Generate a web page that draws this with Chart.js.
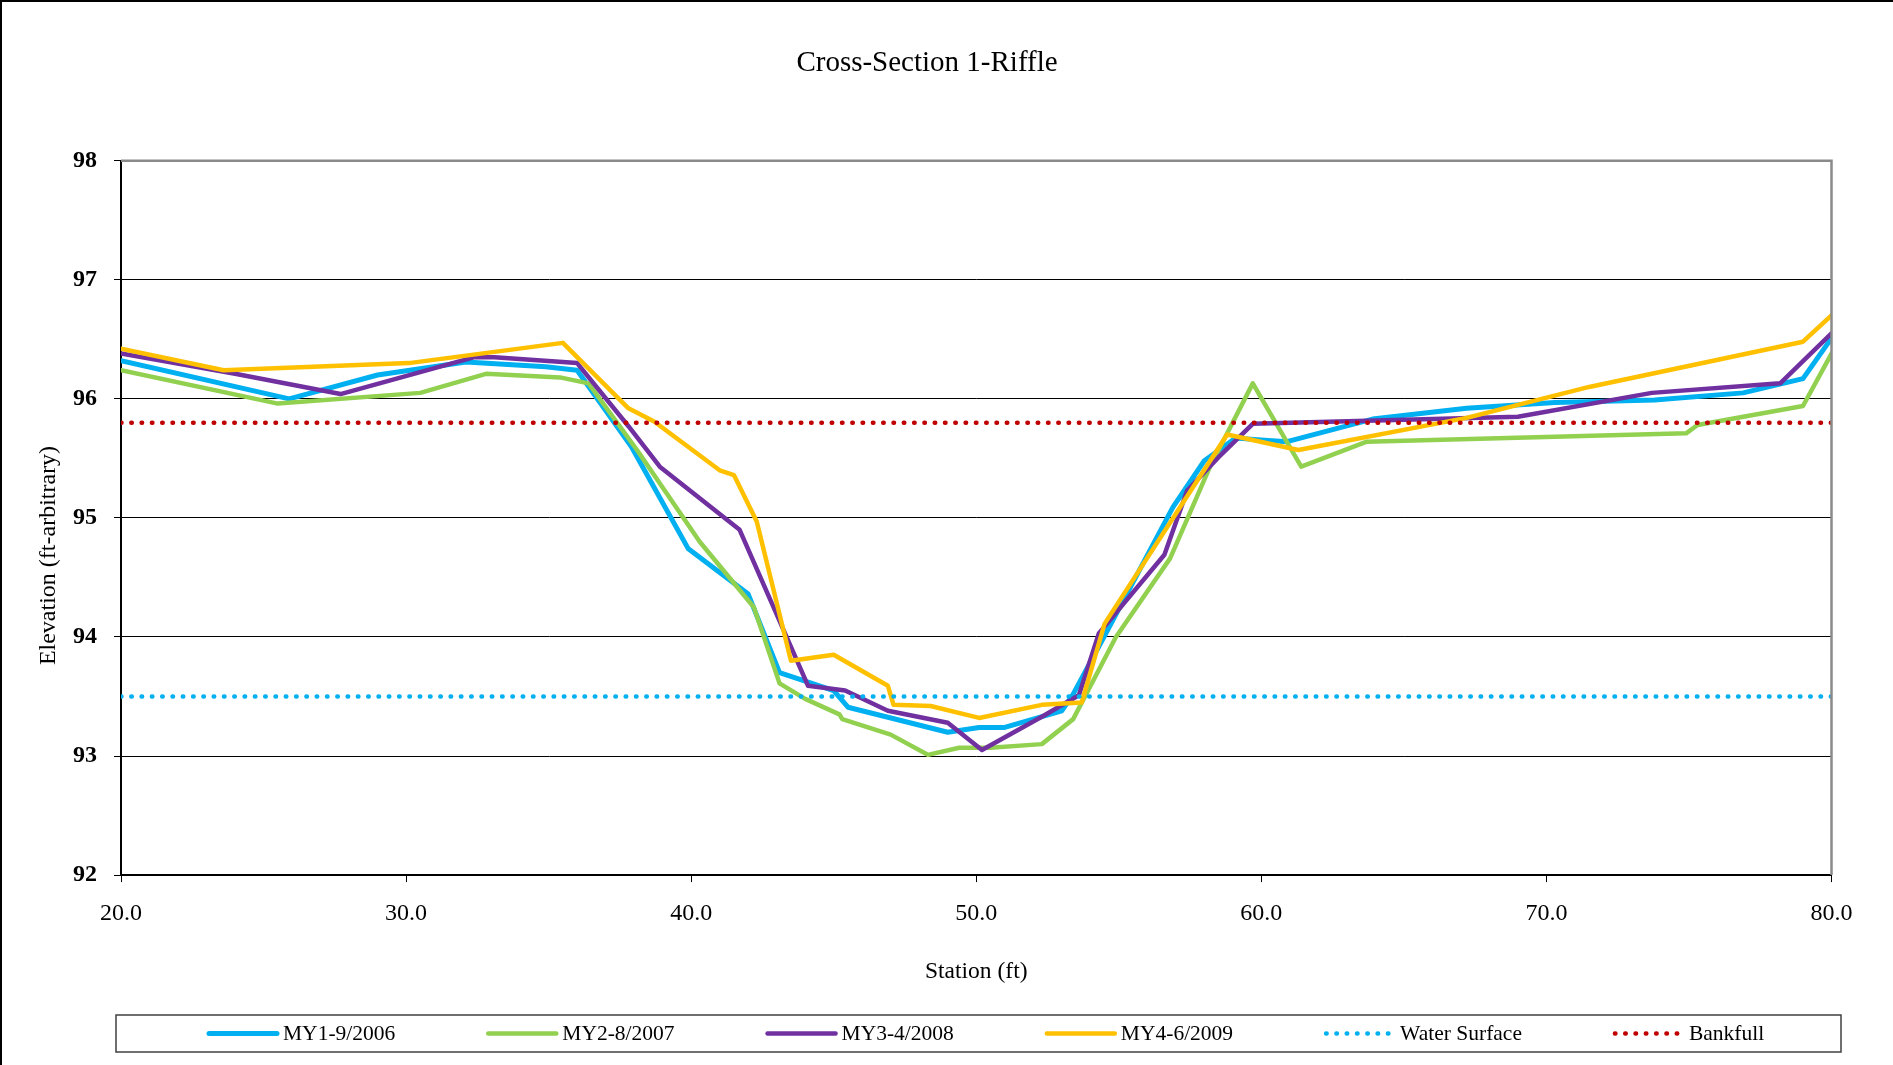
<!DOCTYPE html>
<html>
<head>
<meta charset="utf-8">
<script src="https://cdn.jsdelivr.net/npm/chart.js@4/dist/chart.umd.min.js"></script>
<style>
html,body{margin:0;padding:0;background:#fff;}
#wrap{width:1893px;height:1065px;position:relative;overflow:hidden;}
canvas{display:block;}
</style>
</head>
<body>
<div id="wrap"><canvas id="c" width="1893" height="1065"></canvas></div>
<script>
// ---------- text ----------
const chartTitle = 'Cross-Section 1-Riffle';
const xAxisTitle = 'Station (ft)';
const yAxisTitle = 'Elevation (ft-arbitrary)';
const seriesLabels = ['MY1-9/2006', 'MY2-8/2007', 'MY3-4/2008', 'MY4-6/2009', 'Water Surface', 'Bankfull'];

// ---------- tick values ----------
const xTickValues = [20, 30, 40, 50, 60, 70, 80];
const yTickValues = [92, 93, 94, 95, 96, 97, 98];

// ---------- series (station ft, elevation ft) ----------
const my1Station = [20.0, 25.9, 29.0, 32.1, 34.9, 36.0, 37.9, 39.9, 42.0, 43.1, 45.0, 45.5, 49.0, 50.1, 51.0, 53.0, 53.4, 54.3, 56.9, 58.0, 59.1, 60.9, 63.9, 67.2, 70.3, 73.8, 76.9, 79.0, 80.0];
const my1Elev    = [96.32, 96.00, 96.20, 96.31, 96.27, 96.24, 95.60, 94.74, 94.36, 93.70, 93.55, 93.41, 93.20, 93.24, 93.24, 93.38, 93.52, 93.92, 95.09, 95.48, 95.67, 95.64, 95.83, 95.92, 95.97, 95.99, 96.05, 96.17, 96.51];

const my2Station = [20.0, 25.5, 30.5, 32.8, 35.4, 36.4, 38.1, 40.3, 42.2, 43.1, 44.0, 45.2, 45.3, 47.0, 48.3, 49.4, 50.5, 52.3, 53.4, 54.9, 56.8, 58.2, 59.7, 61.4, 63.7, 74.9, 75.3, 79.0, 80.0];
const my2Elev    = [96.24, 95.96, 96.05, 96.21, 96.18, 96.13, 95.57, 94.80, 94.25, 93.61, 93.48, 93.35, 93.31, 93.18, 93.01, 93.07, 93.07, 93.10, 93.31, 94.00, 94.66, 95.43, 96.13, 95.43, 95.64, 95.71, 95.78, 95.94, 96.38];

const my3Station = [20.0, 24.0, 27.7, 32.4, 33.1, 36.0, 37.8, 38.9, 41.7, 44.1, 45.4, 46.9, 49.0, 50.2, 52.3, 53.6, 54.3, 56.6, 57.4, 58.5, 59.7, 69.0, 73.7, 78.2, 80.0];
const my3Elev    = [96.38, 96.21, 96.04, 96.35, 96.35, 96.30, 95.77, 95.43, 94.90, 93.59, 93.55, 93.38, 93.28, 93.05, 93.33, 93.51, 94.03, 94.69, 95.23, 95.51, 95.79, 95.85, 96.05, 96.13, 96.55];

const my4Station = [20.0, 23.6, 30.1, 35.5, 37.8, 38.7, 41.0, 41.5, 42.3, 43.5, 45.0, 46.9, 47.1, 48.4, 50.1, 52.3, 53.7, 54.5, 58.8, 61.3, 67.2, 71.5, 79.0, 80.0];
const my4Elev    = [96.42, 96.24, 96.30, 96.47, 95.92, 95.81, 95.40, 95.36, 94.97, 93.80, 93.85, 93.59, 93.43, 93.42, 93.32, 93.43, 93.45, 94.11, 95.70, 95.57, 95.84, 96.10, 96.48, 96.70];

const waterStation = [20.0, 80.0];
const waterElev    = [93.5, 93.5];
const bankStation  = [20.0, 80.0];
const bankElev     = [95.8, 95.8];

// ---------- helpers ----------
const zip = (xs, ys) => xs.map((x, i) => ({ x: x, y: ys[i] }));
const SERIF = '"Liberation Serif", "Times New Roman", serif';

const seriesStyle = [
  { color: '#00B0F0', width: 5,   dash: [],         cap: 'round' },
  { color: '#92D050', width: 4.5, dash: [],         cap: 'round' },
  { color: '#7030A0', width: 4.5, dash: [],         cap: 'round' },
  { color: '#FFC000', width: 4.5, dash: [],         cap: 'round' },
  { color: '#00B0F0', width: 4.5, dash: [0.5, 9.8], cap: 'round' },
  { color: '#C00000', width: 4.5, dash: [0.5, 9.8], cap: 'round' }
];
const seriesData = [
  zip(my1Station, my1Elev),
  zip(my2Station, my2Elev),
  zip(my3Station, my3Elev),
  zip(my4Station, my4Elev),
  zip(waterStation, waterElev),
  zip(bankStation, bankElev)
];
const drawOrder = [5, 4, 3, 2, 1, 0]; // higher is drawn first (below)

const datasets = seriesLabels.map((lab, i) => ({
  label: lab,
  data: seriesData[i],
  borderColor: seriesStyle[i].color,
  backgroundColor: seriesStyle[i].color,
  borderWidth: seriesStyle[i].width,
  borderDash: seriesStyle[i].dash,
  borderCapStyle: seriesStyle[i].cap,
  borderJoinStyle: 'round',
  pointRadius: 0,
  pointHoverRadius: 0,
  tension: 0,
  fill: false,
  order: drawOrder[i]
}));

const decor = {
  id: 'decor',
  beforeDraw(chart) {
    const ctx = chart.ctx;
    ctx.save();
    ctx.fillStyle = '#fff';
    ctx.fillRect(0, 0, chart.width, chart.height);
    ctx.restore();
  },
  afterDraw(chart) {
    const ctx = chart.ctx;
    const a = chart.chartArea;
    ctx.save();
    // gray frame top & right of plot
    ctx.strokeStyle = '#8a8a8a';
    ctx.lineWidth = 2.5;
    ctx.lineCap = 'butt';
    ctx.beginPath();
    ctx.moveTo(a.left, a.top);
    ctx.lineTo(a.right, a.top);
    ctx.lineTo(a.right, a.bottom);
    ctx.stroke();

    // chart title
    ctx.fillStyle = '#000';
    ctx.textAlign = 'center';
    ctx.textBaseline = 'alphabetic';
    ctx.font = '29px ' + SERIF;
    ctx.fillText(chartTitle, 927, 70.5);

    // x axis title
    ctx.font = '23.5px ' + SERIF;
    ctx.fillText(xAxisTitle, (a.left + a.right) / 2, 977.7);

    // y axis title
    ctx.save();
    ctx.translate(55, 555.5);
    ctx.rotate(-Math.PI / 2);
    ctx.font = '24px ' + SERIF;
    ctx.fillText(yAxisTitle, 0, 0);
    ctx.restore();

    // legend
    const boxL = 116, boxT = 1015, boxR = 1841, boxB = 1052;
    ctx.strokeStyle = '#404040';
    ctx.lineWidth = 1.5;
    ctx.strokeRect(boxL, boxT, boxR - boxL, boxB - boxT);
    const cy = 1033.5;
    const sampleLen = 68;
    const textGap = 6;
    const itemGap = 93;
    let x = 209;
    ctx.font = '21.5px ' + SERIF;
    ctx.textAlign = 'left';
    ctx.textBaseline = 'middle';
    chart.data.datasets.forEach(ds => {
      ctx.save();
      ctx.strokeStyle = ds.borderColor;
      ctx.lineWidth = ds.borderWidth;
      ctx.lineCap = 'round';
      ctx.setLineDash(ds.borderDash || []);
      ctx.beginPath();
      ctx.moveTo(x, cy);
      ctx.lineTo(x + sampleLen, cy);
      ctx.stroke();
      ctx.restore();
      ctx.fillStyle = '#000';
      const tx = x + sampleLen + textGap;
      ctx.fillText(ds.label, tx, cy + 0.5);
      x = tx + ctx.measureText(ds.label).width + itemGap;
    });

    // outer border of chart object
    ctx.strokeStyle = '#000';
    ctx.lineWidth = 2;
    ctx.beginPath();
    ctx.moveTo(1, chart.height);
    ctx.lineTo(1, 1);
    ctx.lineTo(chart.width, 1);
    ctx.stroke();
    ctx.restore();
  }
};

new Chart(document.getElementById('c'), {
  type: 'line',
  data: { datasets: datasets },
  options: {
    responsive: false,
    animation: false,
    devicePixelRatio: 1,
    events: [],
    layout: { padding: { left: 73, right: 61.5, top: 160.7, bottom: 120.1 } },
    plugins: {
      legend: { display: false },
      title: { display: false },
      tooltip: { enabled: false }
    },
    scales: {
      x: {
        type: 'linear',
        min: 20,
        max: 80,
        afterBuildTicks: s => { s.ticks = xTickValues.map(v => ({ value: v })); },
        ticks: {
          callback: v => Number(v).toFixed(1),
          font: { family: SERIF, size: 24 },
          color: '#000',
          padding: 17,
          maxRotation: 0,
          autoSkip: false
        },
        grid: { drawOnChartArea: false, drawTicks: true, tickLength: 7, color: '#000', lineWidth: 1 },
        border: { display: true, color: '#000', width: 2 }
      },
      y: {
        type: 'linear',
        min: 92,
        max: 98,
        afterBuildTicks: s => { s.ticks = yTickValues.map(v => ({ value: v })); },
        afterFit: s => { s.width = 48; },
        ticks: {
          callback: v => String(v),
          font: { family: SERIF, size: 24, weight: 'bold' },
          color: '#000',
          padding: 17,
          autoSkip: false
        },
        grid: { drawOnChartArea: true, drawTicks: true, tickLength: 7, color: '#000', lineWidth: 1 },
        border: { display: true, color: '#000', width: 2 }
      }
    }
  },
  plugins: [decor]
});
</script>
</body>
</html>
